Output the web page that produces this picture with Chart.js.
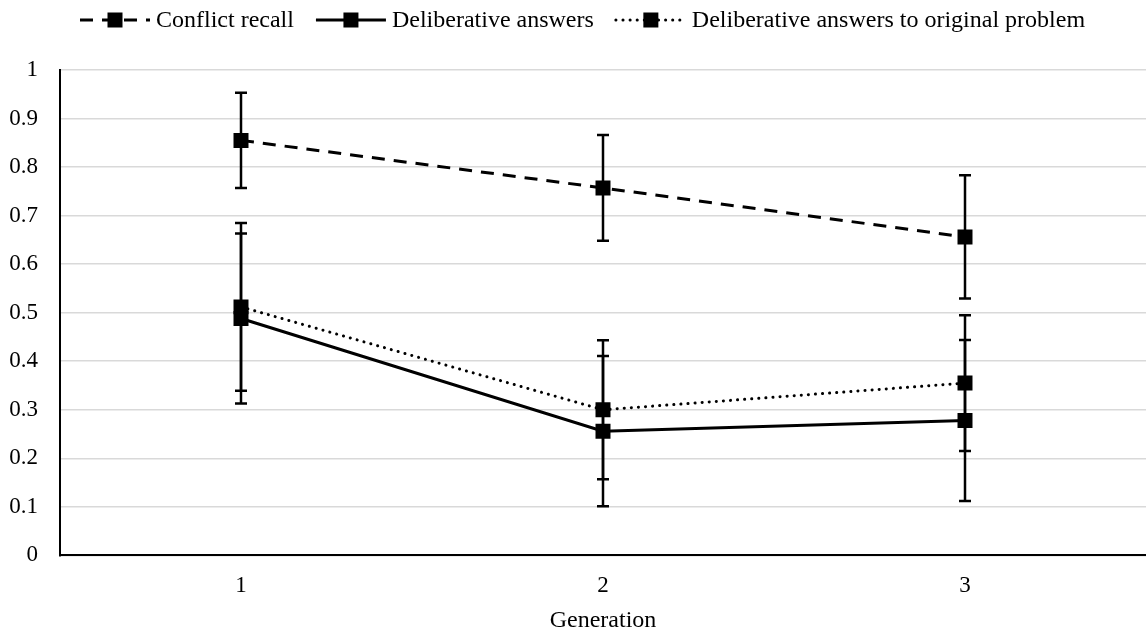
<!DOCTYPE html>
<html>
<head>
<meta charset="utf-8">
<script src="https://cdn.jsdelivr.net/npm/chart.js@4"></script>
<style>
  html, body { margin: 0; padding: 0; background: #fff; }
  #wrap { width: 1146px; height: 635px; }
</style>
</head>
<body>
<div id="wrap"><canvas id="chart" width="1146" height="635"></canvas></div>
<script>
// Data
const categories = ['1', '2', '3'];
const yTicks = [0, 0.1, 0.2, 0.3, 0.4, 0.5, 0.6, 0.7, 0.8, 0.9, 1];
const xTitle = 'Generation';

const conflictRecall = [0.855, 0.757, 0.656];
const conflictRecallErr = [0.098, 0.109, 0.127];

const deliberative = [0.488, 0.256, 0.278];
const deliberativeErr = [0.175, 0.155, 0.166];

const deliberativeOrig = [0.512, 0.300, 0.355];
const deliberativeOrigErr = [0.173, 0.143, 0.140];

const FONT = "'Liberation Serif', 'Times New Roman', serif";

/**
 * Draw vertical error bars with caps, using the chart's own scales
 */
const errorBarPlugin = {
    id: 'errorBars',
    afterDatasetsDraw(chart) {
        const ctx = chart.ctx;
        const yScale = chart.scales.y;
        ctx.save();
        ctx.strokeStyle = '#000';
        ctx.lineWidth = 2.5;
        ctx.setLineDash([]);
        chart.data.datasets.forEach((ds, i) => {
            const meta = chart.getDatasetMeta(i);
            meta.data.forEach((pt, j) => {
                const v = ds.data[j];
                const e = ds.errors[j];
                const x = pt.x;
                const yTop = yScale.getPixelForValue(v + e);
                const yBot = yScale.getPixelForValue(v - e);
                ctx.beginPath();
                ctx.moveTo(x, yTop);
                ctx.lineTo(x, yBot);
                ctx.moveTo(x - 6, yTop);
                ctx.lineTo(x + 6, yTop);
                ctx.moveTo(x - 6, yBot);
                ctx.lineTo(x + 6, yBot);
                ctx.stroke();
            });
        });
        ctx.restore();
    }
};

/**
 * Legend with a line sample and square marker, plus the x axis title
 */
const lineLegendPlugin = {
    id: 'lineLegend',
    afterDraw(chart) {
        const ctx = chart.ctx;
        const y = 20;
        let x = 80;
        ctx.save();
        ctx.font = '24px ' + FONT;
        ctx.textBaseline = 'middle';
        ctx.fillStyle = '#000';
        chart.data.datasets.forEach(ds => {
            const sampleW = 70;
            ctx.strokeStyle = '#000';
            ctx.lineWidth = ds.borderWidth;
            ctx.lineCap = ds.borderCapStyle || 'butt';
            ctx.setLineDash(ds.borderDash || []);
            ctx.beginPath();
            ctx.moveTo(x, y);
            ctx.lineTo(x + sampleW, y);
            ctx.stroke();
            ctx.setLineDash([]);
            ctx.fillRect(x + sampleW / 2 - 7.5, y - 7.5, 15, 15);
            ctx.fillText(ds.label, x + sampleW + 6, y + 1);
            x += sampleW + 6 + ctx.measureText(ds.label).width + 22;
        });

        // axis title
        const area = chart.chartArea;
        ctx.textAlign = 'center';
        ctx.fillText(xTitle, (area.left + area.right) / 2, 621);
        ctx.restore();
    }
};

function makeSeries(label, data, errors, dash, cap) {
    return {
        label: label,
        data: data,
        errors: errors,
        borderColor: '#000',
        backgroundColor: '#000',
        borderWidth: 3,
        borderDash: dash,
        borderCapStyle: cap,
        pointStyle: 'rect',
        pointRadius: 10.6,
        pointHoverRadius: 10.6,
        pointBackgroundColor: '#000',
        pointBorderWidth: 0,
        tension: 0,
        fill: false
    };
}

const ctx = document.getElementById('chart').getContext('2d');
new Chart(ctx, {
    type: 'line',
    data: {
        labels: categories,
        datasets: [
            makeSeries('Conflict recall', conflictRecall, conflictRecallErr, [13, 9], 'butt'),
            makeSeries('Deliberative answers', deliberative, deliberativeErr, [], 'butt'),
            makeSeries('Deliberative answers to original problem', deliberativeOrig, deliberativeOrigErr, [0.1, 7], 'round')
        ]
    },
    options: {
        responsive: false,
        animation: false,
        layout: {
            autoPadding: false,
            padding: { top: 70, right: 0, bottom: 18, left: 0 }
        },
        plugins: {
            legend: { display: false },
            tooltip: { enabled: false }
        },
        scales: {
            x: {
                offset: true,
                afterFit(scale) {
                    scale.paddingLeft = 0;
                    scale.paddingRight = 0;
                },
                grid: { display: false, drawTicks: false },
                border: { color: '#000', width: 2 },
                ticks: {
                    color: '#000',
                    font: { family: FONT, size: 23 },
                    padding: 17
                }
            },
            y: {
                min: 0,
                max: 1,
                afterFit(scale) { scale.width = 60; },
                afterBuildTicks(scale) {
                    scale.ticks = yTicks.map(v => ({ value: v }));
                },
                grid: { color: '#d9d9d9', lineWidth: 1.5, drawTicks: false },
                border: { color: '#000', width: 2 },
                ticks: {
                    color: '#000',
                    font: { family: FONT, size: 23 },
                    padding: 22,
                    callback: v => String(Math.round(v * 10) / 10)
                }
            }
        }
    },
    plugins: [errorBarPlugin, lineLegendPlugin]
});
</script>
</body>
</html>
